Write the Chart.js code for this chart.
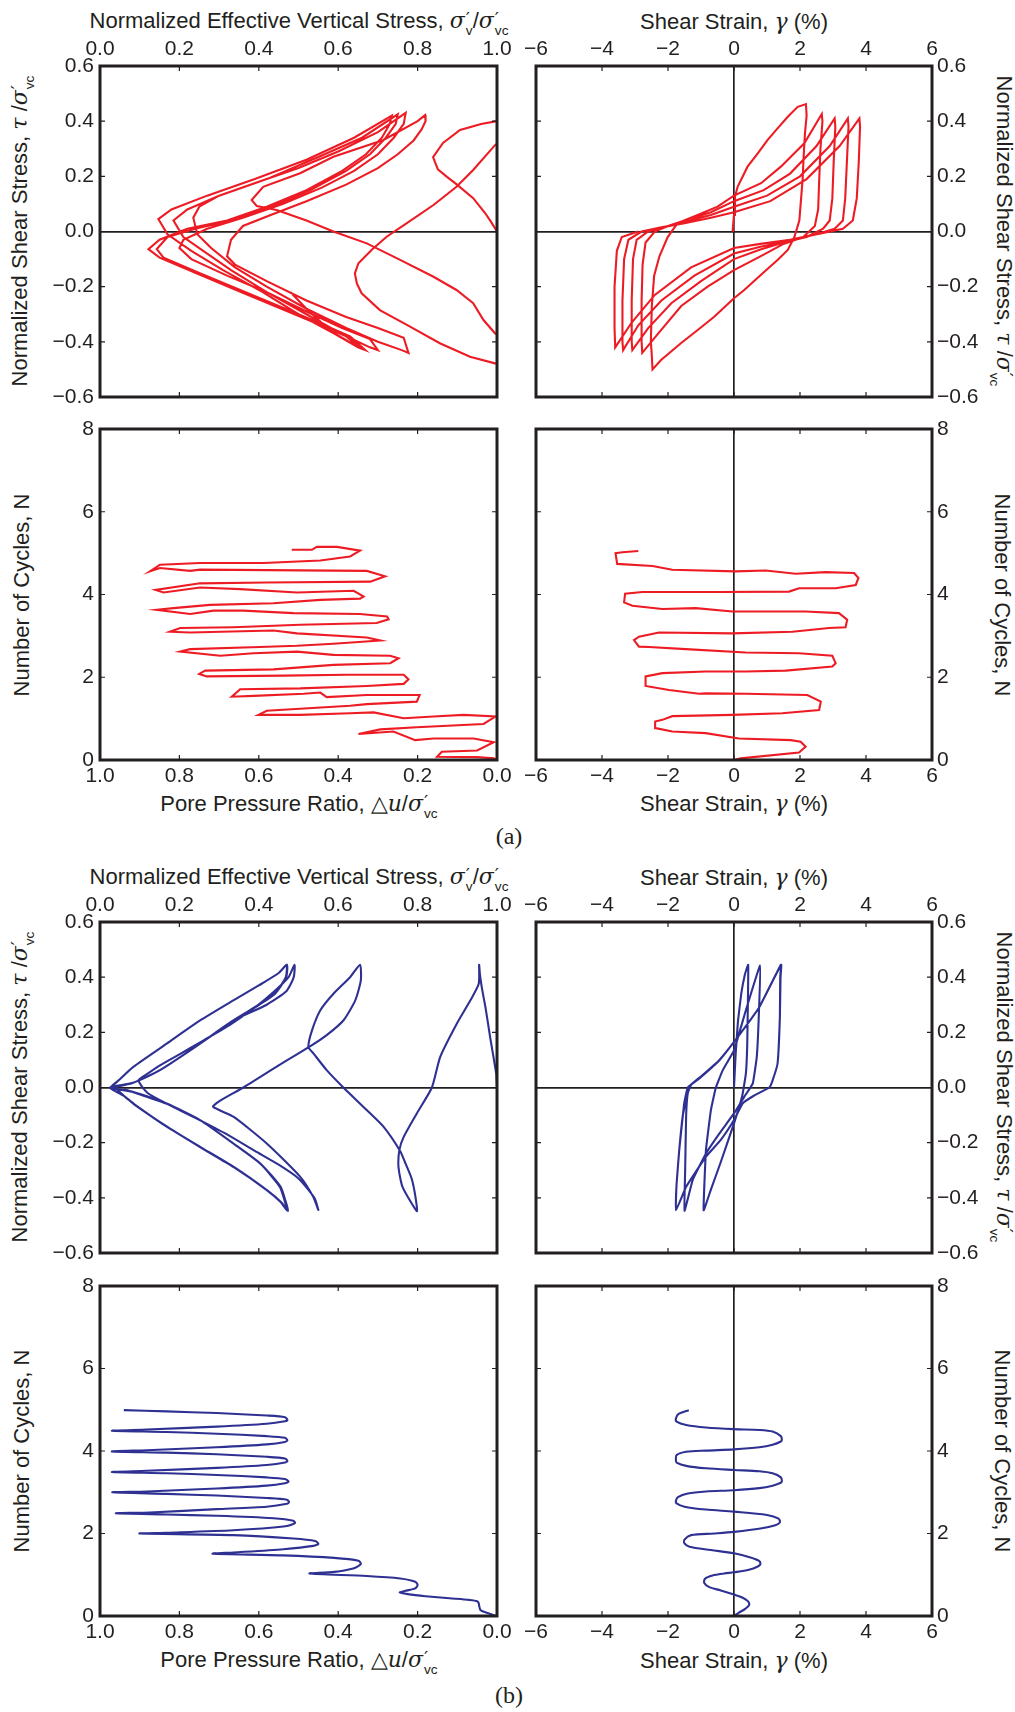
<!DOCTYPE html>
<html>
<head>
<meta charset="utf-8">
<script src="https://cdn.jsdelivr.net/npm/chart.js@4.4.1/dist/chart.umd.min.js"></script>
<style>
body{margin:0;background:#fff;width:1015px;height:1712px;position:relative;overflow:hidden;font-family:"Liberation Sans",Arial,sans-serif;color:#231f20}
canvas{position:absolute}
.t{position:absolute;font-size:22px;white-space:nowrap;transform:translate(-50%,-50%)}
.t.l{transform:translate(-50%,-50%) rotate(-90deg)}
.t.r{transform:translate(-50%,-50%) rotate(90deg)}
.m{font-family:"DejaVu Serif","Liberation Serif",serif;font-style:italic}
.st{display:inline-flex;flex-direction:column;font-size:0.62em;line-height:0.9;vertical-align:0.25em;margin-left:1px}
.pr{font-family:"DejaVu Sans",sans-serif;font-size:1.35em;line-height:0.75}
.tag{position:absolute;font-family:"Liberation Serif",serif;font-size:24px;transform:translate(-50%,-50%)}
</style>
</head>
<body>
<div class="t" style="left:299px;top:23px">Normalized Effective Vertical Stress, <span class="m">σ</span><span class="st"><span class="pr">′</span><span>v</span></span>/<span class="m">σ</span><span class="st"><span class="pr">′</span><span>vc</span></span></div>
<div class="t" style="left:734px;top:22px">Shear Strain, <span class="m">γ</span> (%)</div>
<div class="t l" style="left:22px;top:231px">Normalized Shear Stress, <span class="m">τ</span> /<span class="m">σ</span><span class="st"><span class="pr">′</span><span>vc</span></span></div>
<div class="t r" style="left:1002px;top:231px">Normalized Shear Stress, <span class="m">τ</span> /<span class="m">σ</span><span class="st"><span class="pr">′</span><span>vc</span></span></div>
<div class="t l" style="left:22px;top:595px">Number of Cycles, N</div>
<div class="t r" style="left:1002px;top:595px">Number of Cycles, N</div>
<div class="t" style="left:299px;top:806px">Pore Pressure Ratio, △<span class="m">u</span>/<span class="m">σ</span><span class="st"><span class="pr">′</span><span>vc</span></span></div>
<div class="t" style="left:734px;top:804px">Shear Strain, <span class="m">γ</span> (%)</div>
<div class="tag" style="left:509px;top:836px">(a)</div>

<div class="t" style="left:299px;top:879px">Normalized Effective Vertical Stress, <span class="m">σ</span><span class="st"><span class="pr">′</span><span>v</span></span>/<span class="m">σ</span><span class="st"><span class="pr">′</span><span>vc</span></span></div>
<div class="t" style="left:734px;top:878px">Shear Strain, <span class="m">γ</span> (%)</div>
<div class="t l" style="left:22px;top:1087px">Normalized Shear Stress, <span class="m">τ</span> /<span class="m">σ</span><span class="st"><span class="pr">′</span><span>vc</span></span></div>
<div class="t r" style="left:1002px;top:1087px">Normalized Shear Stress, <span class="m">τ</span> /<span class="m">σ</span><span class="st"><span class="pr">′</span><span>vc</span></span></div>
<div class="t l" style="left:22px;top:1451px">Number of Cycles, N</div>
<div class="t r" style="left:1002px;top:1451px">Number of Cycles, N</div>
<div class="t" style="left:299px;top:1662px">Pore Pressure Ratio, △<span class="m">u</span>/<span class="m">σ</span><span class="st"><span class="pr">′</span><span>vc</span></span></div>
<div class="t" style="left:734px;top:1661px">Shear Strain, <span class="m">γ</span> (%)</div>
<div class="tag" style="left:509px;top:1695px">(b)</div>

<script>
// tick values
const stressTicks = [-0.6, -0.4, -0.2, 0, 0.2, 0.4, 0.6];
const ratioTicks = [0, 0.2, 0.4, 0.6, 0.8, 1.0];
const strainTicks = [-6, -4, -2, 0, 2, 4, 6];
const cycleTicks = [0, 2, 4, 6, 8];

// (a) red, measured: [effective vertical stress ratio, shear stress ratio]
const redStressPath = [
  [1.00,0.00],[0.985,0.035],[0.97,0.067],[0.94,0.121],[0.90,0.169],[0.874,0.198],[0.851,0.225],[0.839,0.27],[0.864,0.321],[0.907,0.368],[0.96,0.39],[1.02,0.405],
  [1.04,0.36],[0.995,0.313],[0.94,0.223],[0.898,0.162],[0.84,0.096],[0.773,0.03],[0.722,-0.019],[0.684,-0.067],[0.651,-0.115],[0.642,-0.152],[0.647,-0.188],[0.659,-0.224],[0.705,-0.285],[0.781,-0.345],[0.856,-0.405],[0.932,-0.454],[0.995,-0.478],[1.03,-0.48],
  [1.04,-0.40],[0.995,-0.369],[0.966,-0.321],[0.94,-0.26],[0.898,-0.212],[0.84,-0.164],[0.756,-0.103],[0.672,-0.043],[0.588,0.0],[0.52,0.04],[0.445,0.078],[0.395,0.092],[0.382,0.114],[0.411,0.162],[0.504,0.211],[0.588,0.271],[0.714,0.332],[0.80,0.40],[0.819,0.422],
  [0.82,0.40],[0.81,0.37],[0.79,0.33],[0.75,0.28],[0.70,0.23],[0.62,0.17],[0.52,0.11],[0.43,0.06],[0.36,0.02],[0.33,-0.03],[0.32,-0.09],
  [0.34,-0.12],[0.42,-0.18],[0.52,-0.25],[0.62,-0.31],[0.70,-0.35],[0.765,-0.385],[0.777,-0.44],
  [0.76,-0.43],[0.70,-0.40],[0.62,-0.35],[0.52,-0.28],[0.42,-0.20],[0.34,-0.13],[0.28,-0.06],[0.245,-0.01],[0.235,0.05],[0.25,0.09],
  [0.30,0.13],[0.40,0.18],[0.50,0.23],[0.60,0.29],[0.70,0.36],[0.77,0.43],
  [0.765,0.39],[0.74,0.34],[0.70,0.28],[0.64,0.22],[0.56,0.16],[0.46,0.10],[0.36,0.05],[0.27,0.01],[0.21,-0.03],[0.20,-0.06],
  [0.23,-0.10],[0.32,-0.16],[0.42,-0.22],[0.52,-0.29],[0.61,-0.35],[0.68,-0.39],[0.70,-0.43],
  [0.68,-0.42],[0.62,-0.38],[0.52,-0.30],[0.42,-0.22],[0.33,-0.14],[0.26,-0.07],[0.21,-0.02],[0.185,0.04],
  [0.22,0.08],[0.30,0.13],[0.42,0.19],[0.55,0.27],[0.66,0.34],[0.75,0.425],
  [0.745,0.39],[0.72,0.34],[0.68,0.28],[0.62,0.22],[0.53,0.15],[0.43,0.09],[0.33,0.04],[0.24,0.01],[0.17,-0.02],[0.143,-0.064],
  [0.16,-0.095],[0.25,-0.15],[0.35,-0.21],[0.45,-0.27],[0.55,-0.33],[0.63,-0.38],[0.668,-0.43],
  [0.65,-0.42],[0.59,-0.37],[0.50,-0.30],[0.41,-0.22],[0.31,-0.14],[0.23,-0.07],[0.17,-0.01],[0.147,0.045],
  [0.18,0.08],[0.27,0.13],[0.39,0.19],[0.52,0.26],[0.64,0.34],[0.735,0.42],
  [0.73,0.39],[0.71,0.34],[0.67,0.28],[0.61,0.22],[0.52,0.15],[0.42,0.09],[0.32,0.04],[0.22,0.01],[0.15,-0.03],[0.122,-0.064],
  [0.15,-0.095],[0.24,-0.15],[0.34,-0.21],[0.44,-0.27],[0.54,-0.33],[0.62,-0.38],[0.655,-0.42],
  [0.64,-0.41],[0.58,-0.36],[0.52,-0.28],[0.48,-0.22]
];

// (a) red: [shear strain %, shear stress ratio]
const redStrainPath = [
  [0,0],[-0.04,0.005],[0.0,0.06],[0.03,0.126],[0.11,0.162],[0.41,0.235],[0.72,0.283],[1.02,0.332],[1.32,0.374],[1.63,0.416],[1.93,0.452],[2.18,0.462],
  [2.2,0.42],[2.15,0.356],[2.11,0.27],[2.08,0.19],[2.02,0.10],[1.98,0.04],[1.83,-0.02],[1.63,-0.067],[1.32,-0.103],[0.92,-0.146],[0.31,-0.212],[0,-0.242],[-0.6,-0.309],[-1.1,-0.357],[-1.61,-0.405],[-2.21,-0.466],[-2.47,-0.50],
  [-2.49,-0.45],[-2.52,-0.40],[-2.49,-0.27],[-2.42,-0.16],[-2.26,-0.09],[-2.01,-0.02],[-1.71,0.03],[-1.1,0.06],[-0.5,0.09],[0,0.13],[0.82,0.175],[1.42,0.235],[2.13,0.32],[2.66,0.426],
  [2.68,0.40],[2.62,0.30],[2.58,0.18],[2.55,0.08],[2.45,0.02],[2.1,-0.02],[1.5,-0.045],[0.8,-0.09],[0,-0.14],[-0.8,-0.20],[-1.6,-0.27],[-2.3,-0.37],[-2.78,-0.44],
  [-2.80,-0.40],[-2.80,-0.25],[-2.77,-0.12],[-2.68,-0.04],[-2.4,0.0],[-2.0,0.02],[-1.5,0.04],[-0.7,0.07],[0,0.11],[0.9,0.15],[1.7,0.21],[2.5,0.31],[3.05,0.41],
  [3.07,0.38],[3.02,0.25],[2.98,0.12],[2.9,0.04],[2.7,0.01],[2.2,-0.02],[1.5,-0.04],[0.8,-0.065],[0,-0.10],[-1.0,-0.18],[-1.9,-0.26],[-2.6,-0.35],[-3.08,-0.43],
  [-3.10,-0.40],[-3.10,-0.25],[-3.06,-0.10],[-2.95,-0.03],[-2.6,0.0],[-2.0,0.02],[-1.5,0.035],[-0.7,0.06],[0,0.09],[1.0,0.13],[2.0,0.20],[2.9,0.31],[3.45,0.41],
  [3.47,0.38],[3.42,0.25],[3.37,0.12],[3.3,0.04],[3.05,0.01],[2.5,-0.01],[1.6,-0.035],[0.8,-0.055],[0,-0.08],[-1.2,-0.16],[-2.2,-0.25],[-2.9,-0.34],[-3.36,-0.43],
  [-3.38,-0.40],[-3.38,-0.25],[-3.33,-0.10],[-3.2,-0.03],[-2.8,0.0],[-2.2,0.015],[-1.5,0.03],[-0.7,0.05],[0,0.07],[1.1,0.11],[2.2,0.19],[3.2,0.31],[3.8,0.41],
  [3.82,0.38],[3.78,0.25],[3.72,0.12],[3.6,0.04],[3.3,0.01],[2.7,-0.005],[1.7,-0.03],[0.8,-0.045],[0,-0.06],[-1.3,-0.13],[-2.4,-0.23],[-3.1,-0.33],[-3.6,-0.42],
  [-3.62,-0.35],[-3.62,-0.20],[-3.55,-0.07],[-3.4,-0.02],[-2.9,0.0]
];

// (a) red: [pore pressure ratio, cycles]
const redPorePath = [
  [0.0,0.0],[0.008,0.04],[0.05,0.07],[0.151,0.08],[0.139,0.20],[0.05,0.23],[0.008,0.43],[0.059,0.52],[0.16,0.52],[0.206,0.48],[0.261,0.69],[0.349,0.63],[0.294,0.74],[0.202,0.79],[0.034,0.87],[0.004,1.05],
  [0.084,1.09],[0.16,1.05],[0.235,1.01],[0.311,1.15],[0.37,1.13],[0.496,1.09],[0.601,1.09],[0.58,1.19],[0.37,1.31],[0.328,1.35],[0.202,1.41],[0.195,1.57],[0.328,1.57],[0.429,1.52],[0.445,1.63],[0.487,1.60],[0.613,1.55],[0.668,1.53],
  [0.647,1.71],[0.496,1.73],[0.328,1.79],[0.235,1.84],[0.223,1.95],[0.235,2.06],[0.378,2.06],[0.538,2.04],[0.731,2.02],[0.75,2.08],[0.735,2.16],[0.563,2.19],[0.412,2.30],[0.269,2.34],[0.248,2.46],[0.269,2.52],
  [0.412,2.54],[0.504,2.62],[0.613,2.58],[0.697,2.52],[0.798,2.62],[0.773,2.68],[0.597,2.73],[0.504,2.76],[0.412,2.81],[0.294,2.89],[0.328,2.96],[0.504,3.06],[0.563,3.13],[0.773,3.08],[0.824,3.10],
  [0.798,3.19],[0.664,3.21],[0.496,3.27],[0.303,3.31],[0.273,3.40],[0.277,3.47],[0.345,3.53],[0.513,3.55],[0.639,3.61],[0.714,3.61],[0.773,3.53],[0.857,3.63],[0.815,3.67],[0.723,3.75],[0.563,3.79],
  [0.445,3.87],[0.345,3.90],[0.336,3.95],[0.361,4.09],[0.504,4.05],[0.647,4.13],[0.748,4.17],[0.84,4.05],[0.86,4.11],[0.748,4.27],[0.58,4.29],[0.319,4.31],[0.282,4.44],[0.328,4.57],[0.748,4.60],
  [0.773,4.57],[0.849,4.64],[0.874,4.56],[0.849,4.72],[0.748,4.76],[0.588,4.76],[0.445,4.82],[0.37,4.92],[0.345,5.06],[0.403,5.15],[0.454,5.15],[0.466,5.08],[0.517,5.08]
];

// (a) red: [shear strain %, cycles]
const redCyclePath = [
  [0.0,0.0],[0.20,0.04],[1.97,0.18],[2.17,0.32],[2.02,0.44],[1.72,0.48],[0.15,0.52],[-0.86,0.65],[-1.87,0.69],[-2.37,0.77],[-2.39,0.93],[-2.17,0.97],[-1.87,1.06],[-0.05,1.09],[1.46,1.13],[2.58,1.21],
  [2.63,1.41],[2.22,1.57],[0.35,1.60],[-0.86,1.61],[-1.06,1.60],[-1.97,1.69],[-2.68,1.79],[-2.68,2.02],[-2.17,2.10],[-0.86,2.14],[0.35,2.14],[1.57,2.16],[2.98,2.26],[3.08,2.34],[2.98,2.52],
  [1.97,2.58],[0.35,2.60],[-1.46,2.68],[-2.58,2.73],[-2.88,2.74],[-3.03,2.90],[-2.88,2.98],[-2.27,3.08],[-0.05,3.06],[1.77,3.10],[2.88,3.19],[3.38,3.21],[3.43,3.39],[3.18,3.55],[2.17,3.59],
  [-0.05,3.59],[-1.16,3.67],[-2.17,3.65],[-3.08,3.73],[-3.33,3.81],[-3.30,4.02],[-2.78,4.06],[-0.45,4.06],[1.67,4.07],[1.97,4.15],[3.08,4.15],[3.69,4.23],[3.77,4.40],[3.64,4.52],[2.78,4.54],
  [1.87,4.50],[0.96,4.58],[0.05,4.56],[-1.87,4.60],[-2.47,4.69],[-3.54,4.74],[-3.59,5.00],[-3.38,5.02],[-2.90,5.05]
];

// (b) blue, simulated: [effective vertical stress ratio, shear stress ratio]
const blueStressPath = [
  [1.0,0.0],[0.998,0.05],[0.99,0.12],[0.983,0.18],[0.971,0.29],[0.962,0.36],[0.957,0.41],[0.955,0.445],
  [0.954,0.376],[0.933,0.316],[0.899,0.232],[0.857,0.111],[0.836,0.0],[0.798,-0.094],[0.765,-0.179],[0.754,-0.227],[0.752,-0.29],[0.762,-0.36],[0.798,-0.448],
  [0.795,-0.40],[0.785,-0.33],[0.768,-0.27],[0.756,-0.23],[0.714,-0.142],[0.672,-0.082],[0.613,0.0],[0.571,0.063],[0.538,0.123],[0.525,0.147],[0.534,0.207],[0.555,0.28],[0.588,0.34],[0.63,0.40],[0.655,0.445],
  [0.657,0.388],[0.643,0.316],[0.613,0.243],[0.571,0.19],[0.53,0.15],[0.45,0.08],[0.361,0.0],[0.30,-0.05],[0.285,-0.07],
  [0.336,-0.106],[0.42,-0.203],[0.504,-0.323],[0.537,-0.396],[0.55,-0.444],
  [0.54,-0.40],[0.50,-0.33],[0.45,-0.28],[0.39,-0.23],[0.32,-0.17],[0.24,-0.11],[0.17,-0.06],[0.12,-0.02],[0.097,0.026],
  [0.12,0.05],[0.151,0.08],[0.20,0.12],[0.26,0.17],[0.33,0.23],[0.39,0.29],[0.44,0.35],[0.475,0.40],[0.49,0.445],
  [0.488,0.40],[0.47,0.35],[0.42,0.30],[0.336,0.243],[0.252,0.159],[0.151,0.063],[0.08,0.015],[0.04,0.0],
  [0.06,-0.03],[0.084,-0.058],[0.168,-0.142],[0.252,-0.215],[0.336,-0.287],[0.42,-0.372],[0.455,-0.415],[0.472,-0.447],
  [0.465,-0.41],[0.453,-0.36],[0.403,-0.275],[0.336,-0.203],[0.252,-0.118],[0.168,-0.058],[0.084,-0.016],[0.03,0.0],
  [0.05,0.03],[0.084,0.075],[0.168,0.159],[0.252,0.243],[0.336,0.316],[0.40,0.37],[0.45,0.415],[0.47,0.445],
  [0.468,0.40],[0.44,0.34],[0.40,0.30],[0.336,0.243],[0.252,0.159],[0.151,0.063],[0.08,0.015],[0.025,0.0],
  [0.06,-0.03],[0.085,-0.06],[0.17,-0.143],[0.253,-0.217],[0.337,-0.289],[0.421,-0.373],[0.456,-0.416],[0.473,-0.447],
  [0.466,-0.41],[0.454,-0.36],[0.404,-0.276],[0.337,-0.204],[0.253,-0.119],[0.169,-0.059],[0.085,-0.017],[0.028,0.0],
  [0.05,0.03],[0.085,0.076],[0.169,0.16],[0.253,0.244],[0.337,0.317],[0.401,0.371],[0.451,0.416],[0.471,0.445],
  [0.469,0.40],[0.441,0.34],[0.401,0.30],[0.337,0.244],[0.253,0.16],[0.152,0.064],[0.081,0.016],[0.026,0.0],
  [0.06,-0.03],[0.086,-0.06],[0.17,-0.144],[0.254,-0.217],[0.338,-0.289],[0.422,-0.374],[0.457,-0.417],[0.474,-0.447],
  [0.467,-0.41],[0.455,-0.36],[0.405,-0.277],[0.338,-0.205],[0.254,-0.12],[0.17,-0.06],[0.09,-0.02],[0.06,-0.005]
];

// (b) blue: [shear strain %, shear stress ratio]
const blueStrainPath = [
  [0,0],[0.05,0.12],[0.12,0.24],[0.22,0.34],[0.33,0.41],[0.43,0.445],
  [0.42,0.30],[0.40,0.15],[0.36,0.05],[0.25,-0.03],[0,-0.13],[-0.4,-0.27],[-0.7,-0.37],[-0.92,-0.445],
  [-0.85,-0.227],[-0.70,-0.082],[-0.55,0.0],[-0.34,0.063],[0,0.135],[0.36,0.28],[0.79,0.442],
  [0.75,0.255],[0.69,0.111],[0.57,0.015],[0.31,-0.034],[0,-0.094],[-0.44,-0.166],[-0.85,-0.239],[-1.25,-0.335],[-1.5,-0.447],
  [-1.48,-0.30],[-1.45,-0.10],[-1.40,-0.02],[-1.30,0.01],[-1.0,0.04],[-0.44,0.10],[0,0.165],[0.77,0.292],[1.42,0.445],
  [1.40,0.40],[1.39,0.255],[1.32,0.087],[1.17,0.026],[1.07,0.0],[0.6,-0.03],[0.26,-0.058],[0,-0.118],[-0.4,-0.19],[-0.85,-0.251],[-1.45,-0.36],[-1.76,-0.445],
  [-1.74,-0.35],[-1.66,-0.227],[-1.51,-0.058],[-1.40,0.0],[-1.05,0.033],[-0.44,0.099],[0,0.165],[0.77,0.292],[1.43,0.445],
  [1.41,0.40],[1.39,0.255],[1.32,0.087],[1.17,0.026],[1.07,0.0],[0.6,-0.03],[0.26,-0.058],[0,-0.118],[-0.4,-0.19],[-0.85,-0.251],[-1.45,-0.36],[-1.76,-0.445],
  [-1.74,-0.35],[-1.66,-0.227],[-1.51,-0.058],[-1.40,0.0],[-1.05,0.033],[-0.44,0.099],[0,0.165],[0.77,0.292],[1.43,0.445],
  [1.41,0.40],[1.39,0.255],[1.32,0.087],[1.17,0.026],[1.07,0.0],[0.6,-0.03],[0.26,-0.058],[0,-0.118],[-0.4,-0.19],[-0.85,-0.251],[-1.45,-0.36],[-1.76,-0.445],
  [-1.74,-0.35],[-1.66,-0.227],[-1.55,-0.10],[-1.37,0.0]
];

// (b) blue: [pore pressure ratio, cycles]
const bluePorePath = [
  [0.0,0.0],[0.008,0.02],[0.02,0.06],[0.035,0.11],[0.042,0.15],[0.045,0.25],[0.046,0.31],[0.05,0.36],[0.07,0.39],[0.12,0.43],[0.18,0.48],[0.225,0.53],[0.245,0.57],
  [0.231,0.61],[0.206,0.67],[0.20,0.75],[0.206,0.83],[0.244,0.91],[0.328,0.97],[0.472,1.03],
  [0.41,1.07],[0.36,1.16],[0.343,1.26],[0.349,1.34],[0.41,1.41],[0.54,1.47],[0.716,1.51],
  [0.664,1.54],[0.538,1.62],[0.462,1.70],[0.45,1.75],[0.458,1.82],[0.513,1.88],[0.664,1.96],[0.90,2.0],
  [0.832,2.02],[0.664,2.08],[0.538,2.17],[0.509,2.25],[0.513,2.31],[0.563,2.37],[0.706,2.43],[0.832,2.46],[0.96,2.49],
  [0.874,2.51],[0.706,2.59],[0.58,2.65],[0.529,2.72],[0.524,2.76],[0.529,2.82],[0.58,2.86],[0.706,2.92],[0.832,2.96],[0.969,3.0],
  [0.882,3.02],[0.706,3.09],[0.58,3.16],[0.534,3.22],[0.525,3.26],[0.534,3.32],[0.58,3.36],[0.706,3.42],[0.832,3.46],[0.97,3.49],
  [0.882,3.52],[0.706,3.59],[0.58,3.66],[0.534,3.72],[0.528,3.76],[0.534,3.82],[0.58,3.86],[0.706,3.92],[0.832,3.96],[0.97,3.99],
  [0.882,4.02],[0.706,4.09],[0.58,4.16],[0.534,4.22],[0.528,4.26],[0.534,4.32],[0.58,4.36],[0.706,4.42],[0.832,4.46],[0.97,4.49],
  [0.882,4.52],[0.706,4.59],[0.58,4.66],[0.534,4.72],[0.528,4.75],[0.534,4.82],[0.58,4.86],[0.706,4.92],[0.832,4.96],[0.94,4.99]
];

// (b) blue: [shear strain %, cycles]
const blueCyclePath = [
  [0.0,0.0],[0.15,0.08],[0.35,0.18],[0.46,0.27],[0.42,0.36],[0.25,0.45],[0.0,0.52],[-0.4,0.62],[-0.75,0.70],[-0.9,0.80],[-0.88,0.90],[-0.65,0.98],[-0.3,1.03],[0.0,1.06],
  [0.45,1.12],[0.72,1.20],[0.80,1.26],[0.75,1.34],[0.5,1.42],[0.0,1.52],[-0.7,1.60],[-1.35,1.68],[-1.5,1.76],[-1.5,1.85],[-1.3,1.96],[-0.6,2.00],[0.0,2.04],
  [0.8,2.12],[1.25,2.2],[1.39,2.27],[1.35,2.36],[1.0,2.45],[0.0,2.53],[-0.85,2.58],[-1.5,2.65],[-1.74,2.73],[-1.76,2.79],[-1.7,2.88],[-1.4,2.97],[-0.85,3.02],[0.0,3.05],
  [0.77,3.10],[1.17,3.16],[1.42,3.23],[1.45,3.27],[1.42,3.36],[1.17,3.46],[0.77,3.51],[0.0,3.54],[-0.85,3.58],[-1.45,3.64],[-1.74,3.72],[-1.76,3.78],[-1.74,3.90],[-1.45,3.98],[-0.85,4.01],[0.0,4.04],
  [0.77,4.09],[1.17,4.15],[1.42,4.23],[1.45,4.27],[1.42,4.36],[1.17,4.47],[0.77,4.51],[0.0,4.53],[-0.85,4.57],[-1.45,4.63],[-1.74,4.71],[-1.76,4.79],[-1.68,4.90],[-1.37,4.99]
];

const M = 50;
const ink = '#231f20';
const red = '#ed1c24';
const blue = '#2e3192';

Chart.defaults.font.family = '"Liberation Sans", Arial, sans-serif';
Chart.defaults.font.size = 21;
Chart.defaults.color = ink;

function fmt1(v) { return (v < 0 ? '\u2212' : '') + Math.abs(v).toFixed(1); }
function fmt0(v) { return (v < 0 ? '\u2212' : '') + Math.abs(v).toFixed(0); }

// matplotlib-like frame with ticks pointing inward on all four sides
const innerFrame = {
  id: 'innerFrame',
  afterDraw(chart) {
    const { ctx, chartArea: a, scales } = chart;
    const L = 5;
    ctx.save();
    ctx.strokeStyle = ink;
    ctx.lineWidth = 1.2;
    ctx.beginPath();
    scales.x.ticks.forEach(t => {
      const p = scales.x.getPixelForValue(t.value);
      ctx.moveTo(p, a.top); ctx.lineTo(p, a.top + L);
      ctx.moveTo(p, a.bottom); ctx.lineTo(p, a.bottom - L);
    });
    scales.y.ticks.forEach(t => {
      const p = scales.y.getPixelForValue(t.value);
      ctx.moveTo(a.left, p); ctx.lineTo(a.left + L, p);
      ctx.moveTo(a.right, p); ctx.lineTo(a.right - L, p);
    });
    ctx.stroke();
    ctx.lineWidth = 3;
    ctx.strokeRect(a.left, a.top, a.right - a.left, a.bottom - a.top);
    ctx.restore();
  }
};

function axis(o, horizontal) {
  return {
    type: 'linear',
    position: o.pos,
    min: o.min,
    max: o.max,
    reverse: !!o.reverse,
    afterBuildTicks: s => { s.ticks = o.ticks.map(v => ({ value: v })); },
    afterFit: s => { if (horizontal) s.height = M; else s.width = M; },
    border: { display: false },
    grid: {
      drawTicks: false,
      lineWidth: 1.7,
      color: c => (o.zero && c.tick && Math.abs(c.tick.value) < 1e-9) ? ink : 'rgba(0,0,0,0)'
    },
    ticks: { autoSkip: false, maxRotation: 0, minRotation: 0, padding: o.pad, callback: v => o.fmt(v) }
  };
}

function panel(box, pts, color, xo, yo, tension) {
  const cv = document.createElement('canvas');
  cv.width = box[2] - box[0] + 2 * M;
  cv.height = box[3] - box[1] + 2 * M;
  cv.style.left = (box[0] - M) + 'px';
  cv.style.top = (box[1] - M) + 'px';
  document.body.appendChild(cv);
  new Chart(cv, {
    type: 'scatter',
    data: {
      datasets: [{
        data: pts.map(p => ({ x: p[0], y: p[1] })),
        showLine: true,
        borderColor: color,
        borderWidth: 2.1,
        pointRadius: 0,
        tension: tension
      }]
    },
    options: {
      responsive: false,
      animation: false,
      events: [],
      layout: {
        padding: {
          left: yo.pos === 'left' ? 0 : M,
          right: yo.pos === 'right' ? 0 : M,
          top: xo.pos === 'top' ? 0 : M,
          bottom: xo.pos === 'bottom' ? 0 : M
        }
      },
      plugins: { legend: { display: false }, tooltip: { enabled: false } },
      scales: { x: axis(xo, true), y: axis(yo, false) }
    },
    plugins: [innerFrame]
  });
}

const sigTop = { pos: 'top', min: 0, max: 1, ticks: ratioTicks, fmt: fmt1, pad: 4 };
const gamTop = { pos: 'top', min: -6, max: 6, ticks: strainTicks, fmt: fmt0, pad: 4, zero: true };
const poreBot = { pos: 'bottom', min: 0, max: 1, reverse: true, ticks: ratioTicks, fmt: fmt1, pad: 4 };
const gamBot = { pos: 'bottom', min: -6, max: 6, ticks: strainTicks, fmt: fmt0, pad: 4, zero: true };
const tauL = { pos: 'left', min: -0.6, max: 0.6, ticks: stressTicks, fmt: fmt1, pad: 6, zero: true };
const tauR = { pos: 'right', min: -0.6, max: 0.6, ticks: stressTicks, fmt: fmt1, pad: 5, zero: true };
const nL = { pos: 'left', min: 0, max: 8, ticks: cycleTicks, fmt: fmt0, pad: 6 };
const nR = { pos: 'right', min: 0, max: 8, ticks: cycleTicks, fmt: fmt0, pad: 5 };

panel([100, 66, 497, 397], redStressPath, red, sigTop, tauL, 0);
panel([536, 66, 932, 397], redStrainPath, red, gamTop, tauR, 0);
panel([100, 429, 497, 760], redPorePath, red, poreBot, nL, 0);
panel([536, 429, 932, 760], redCyclePath, red, gamBot, nR, 0);

panel([100, 922, 497, 1253], blueStressPath, blue, sigTop, tauL, 0.2);
panel([536, 922, 932, 1253], blueStrainPath, blue, gamTop, tauR, 0.1);
panel([100, 1286, 497, 1616], bluePorePath, blue, poreBot, nL, 0.25);
panel([536, 1286, 932, 1616], blueCyclePath, blue, gamBot, nR, 0.3);
</script>
</body>
</html>
